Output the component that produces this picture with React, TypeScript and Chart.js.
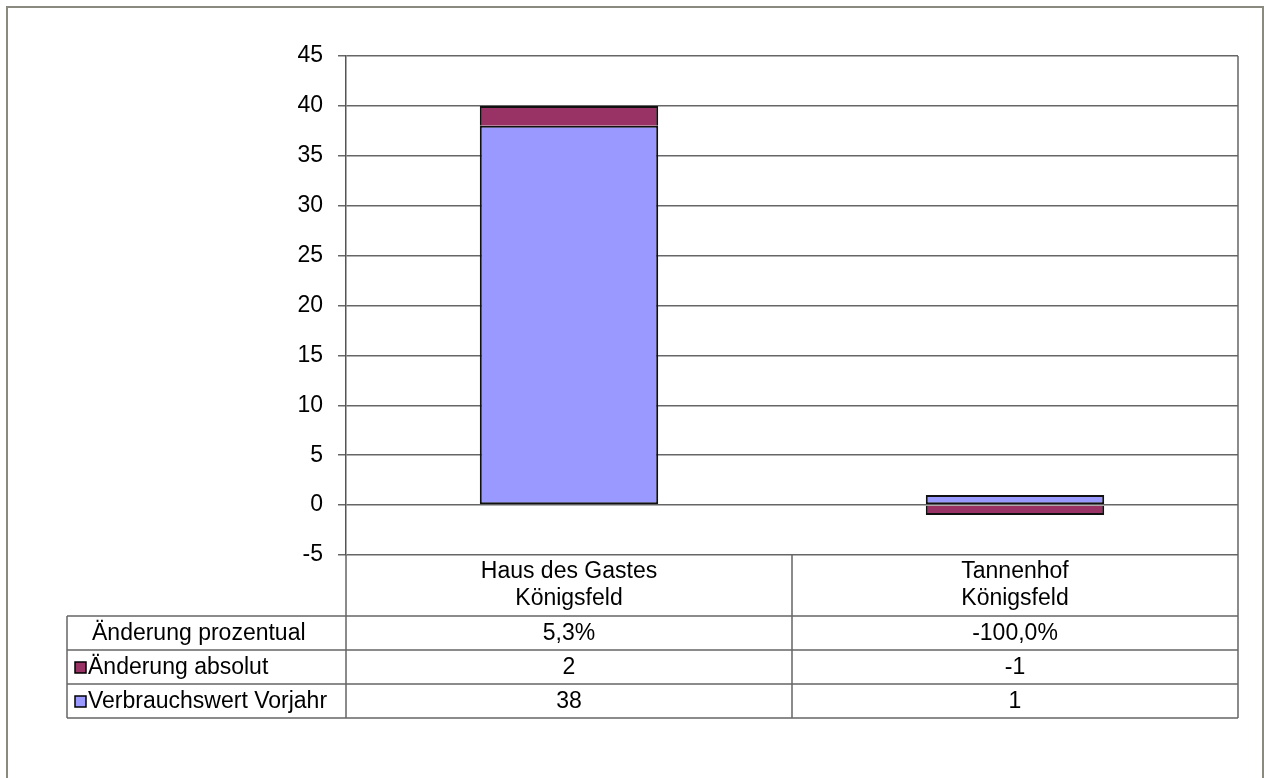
import React, { useEffect, useRef } from "react";
import { Chart, registerables } from "chart.js";

Chart.register(...registerables);

const categories: string[][] = [
  ["Haus des Gastes", "Königsfeld"],
  ["Tannenhof", "Königsfeld"],
];
const verbrauchswertVorjahr = [38, 1];
const aenderungAbsolut = [2, -1];
const aenderungProzentual = ["5,3%", "-100,0%"];
const rowNames = ["Änderung prozentual", "Änderung absolut", "Verbrauchswert Vorjahr"];
const yMin = -5;
const yMax = 45;
const yStep = 5;

const COLOR_VORJAHR = "#9999FF";
const COLOR_AENDERUNG = "#993366";
const FONT = "'Liberation Sans', Arial, sans-serif";
const FONT_SIZE = 23;
const LINE = "#666666";

const tablePlugin = {
  id: "dataTable",
  afterDraw(chart: any) {
    const { ctx, chartArea: ca, scales } = chart;
    const xs = scales.x;
    const n = categories.length;
    const top = ca.bottom;
    const catRowH = 61;
    const rowH = 34;
    const tableLeft = 67;
    const rowTops = [top + catRowH, top + catRowH + rowH, top + catRowH + 2 * rowH];
    const tableBottom = top + catRowH + 3 * rowH;
    const centers = categories.map((_, i) => xs.getPixelForValue(i));
    const bounds: number[] = [ca.left];
    for (let i = 0; i < n - 1; i++) bounds.push((centers[i] + centers[i + 1]) / 2);
    bounds.push(ca.right);

    ctx.save();
    ctx.strokeStyle = LINE;
    ctx.lineWidth = 1.5;
    ctx.beginPath();
    ctx.moveTo(ca.right, ca.top);
    ctx.lineTo(ca.right, tableBottom);
    for (let i = 0; i < bounds.length - 1; i++) {
      ctx.moveTo(bounds[i], top);
      ctx.lineTo(bounds[i], tableBottom);
    }
    ctx.moveTo(tableLeft, rowTops[0]);
    ctx.lineTo(tableLeft, tableBottom);
    [...rowTops, tableBottom].forEach((y) => {
      ctx.moveTo(tableLeft, y);
      ctx.lineTo(ca.right, y);
    });
    ctx.stroke();

    ctx.fillStyle = "#000";
    ctx.font = `${FONT_SIZE}px ${FONT}`;
    ctx.textBaseline = "middle";
    ctx.textAlign = "center";
    categories.forEach((lines, i) => {
      lines.forEach((t, j) => {
        ctx.fillText(t, centers[i], top + 17 + j * 27);
      });
    });
    const rows = [
      aenderungProzentual,
      aenderungAbsolut.map((v) => String(v)),
      verbrauchswertVorjahr.map((v) => String(v)),
    ];
    rows.forEach((vals, r) => {
      vals.forEach((v, i) => {
        ctx.fillText(v, centers[i], rowTops[r] + rowH / 2 + 1);
      });
    });
    const keys = [null, COLOR_AENDERUNG, COLOR_VORJAHR];
    ctx.textAlign = "left";
    rowNames.forEach((name, r) => {
      const cy = rowTops[r] + rowH / 2 + 1;
      const key = keys[r];
      if (key) {
        ctx.fillStyle = key;
        ctx.fillRect(75, cy - 6, 11, 11);
        ctx.strokeStyle = "#000";
        ctx.lineWidth = 1.5;
        ctx.strokeRect(75, cy - 6, 11, 11);
        ctx.fillStyle = "#000";
        ctx.fillText(name, 88, cy);
      } else {
        ctx.fillText(name, 92, cy);
      }
    });

    ctx.strokeStyle = "#8a8a80";
    ctx.lineWidth = 2;
    ctx.strokeRect(7, 7, 1256, 800);
    ctx.restore();
  },
};

export default function App() {
  const ref = useRef<HTMLCanvasElement>(null);

  useEffect(() => {
    if (!ref.current) return;
    Chart.defaults.font.family = FONT;
    Chart.defaults.font.size = FONT_SIZE;
    Chart.defaults.color = "#000";
    const chart = new Chart(ref.current, {
      type: "bar",
      data: {
        labels: categories,
        datasets: [
          {
            label: "Verbrauchswert Vorjahr",
            data: verbrauchswertVorjahr,
            backgroundColor: COLOR_VORJAHR,
            borderColor: "#111",
            borderWidth: 2,
            borderSkipped: false,
            inflateAmount: 0,
            barPercentage: 1,
            categoryPercentage: 0.4,
          },
          {
            label: "Änderung absolut",
            data: aenderungAbsolut,
            backgroundColor: COLOR_AENDERUNG,
            borderColor: "#111",
            borderWidth: 2,
            borderSkipped: "start",
            inflateAmount: 0,
            barPercentage: 1,
            categoryPercentage: 0.4,
          },
        ],
      },
      options: {
        responsive: false,
        animation: false,
        layout: { padding: { left: 0, right: 26, top: 56, bottom: 223 } },
        plugins: {
          legend: { display: false },
          tooltip: { enabled: false },
          title: { display: false },
        },
        scales: {
          x: {
            display: false,
            stacked: true,
          },
          y: {
            stacked: true,
            min: yMin,
            max: yMax,
            afterFit: (scale: any) => {
              scale.width = 346;
            },
            ticks: {
              stepSize: yStep,
              padding: 15,
              color: "#000",
              font: { size: FONT_SIZE, family: FONT },
              callback: (v: any) => String(v),
            },
            grid: {
              color: LINE,
              lineWidth: 1.5,
              tickLength: 8,
              tickColor: LINE,
            },
            border: { color: "#555", width: 1.5 },
          },
        },
      },
      plugins: [tablePlugin],
    });
    return () => chart.destroy();
  }, []);

  return (
    <div style={{ position: "fixed", left: 0, top: 0, width: 1264, height: 778, background: "#fff" }}>
      <canvas ref={ref} width={1264} height={778} style={{ display: "block" }} />
    </div>
  );
}
